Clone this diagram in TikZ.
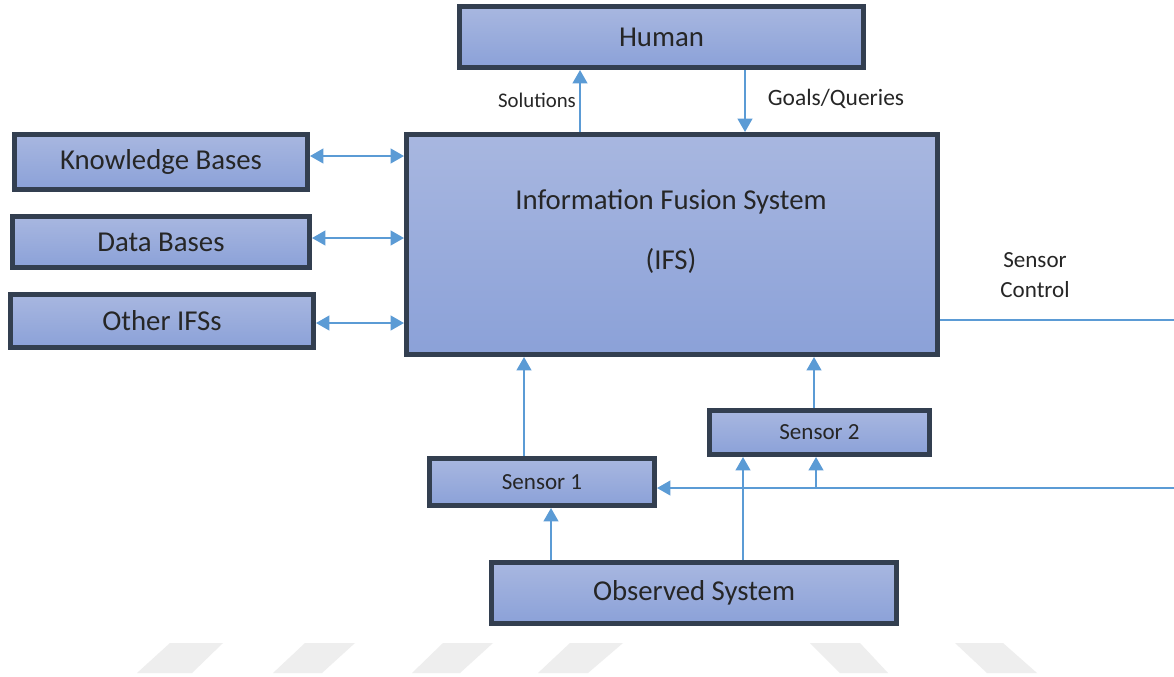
\documentclass[tikz,border=0pt]{standalone}
\usepackage{fontspec}
\setmainfont{Carlito}
\usetikzlibrary{arrows.meta}
\definecolor{boxtop}{HTML}{A8B7E0}
\definecolor{boxbot}{HTML}{8BA1D8}
\definecolor{boxedge}{HTML}{333F50}
\definecolor{flowblue}{HTML}{5B9BD5}
\definecolor{wmgray}{HTML}{EEEEEE}
\begin{document}
\begin{tikzpicture}[x=0.75pt,y=-0.75pt,
  box/.style={draw=boxedge, line width=3.75pt, top color=boxtop, bottom color=boxbot,
              inner sep=0pt, text=black!85, font=\fontsize{21.6}{25}\selectfont},
  smallbox/.style={box, font=\fontsize{17.3}{20}\selectfont},
  lbl/.style={text=black!85, inner sep=0pt, font=\fontsize{17.3}{23}\selectfont},
  flow/.style={draw=flowblue, line width=1.5pt},
  arr/.style={flow, -{Triangle[length=10pt,width=11pt]}},
  dbl/.style={flow, {Triangle[length=10pt,width=11pt]}-{Triangle[length=10pt,width=11pt]}}]
\useasboundingbox (0,0) rectangle (1174,676);
\fill[white] (0,0) rectangle (1174,676);

% faint stripes along the bottom edge
\fill[wmgray] (170,643) -- (223,643) -- (192,673) -- (137,673) -- cycle;
\fill[wmgray] (305,643) -- (355,643) -- (322,673) -- (273,673) -- cycle;
\fill[wmgray] (443,643) -- (493,643) -- (460,673) -- (412,673) -- cycle;
\fill[wmgray] (570,643) -- (623,643) -- (588,673) -- (538,673) -- cycle;
\fill[wmgray] (810,643) -- (860,643) -- (888,673) -- (840,673) -- cycle;
\fill[wmgray] (955,643) -- (1003,643) -- (1037,673) -- (987,673) -- cycle;

% blocks
\node[box, minimum width=404*0.75pt, minimum height=61*0.75pt] (human) at (661.5,37) {Human};
\node[box, minimum width=531*0.75pt, minimum height=220*0.75pt] (ifs) at (672,244.5) {};
\node[lbl, align=center, font=\fontsize{21.6}{25}\selectfont] (ifstitle) at (671,232)
  {Information Fusion System\\[20pt](IFS)};
\node[box, minimum width=293*0.75pt, minimum height=55*0.75pt] (kb) at (161,162) {Knowledge Bases};
\node[box, minimum width=297*0.75pt, minimum height=51*0.75pt] (db) at (161,242) {Data Bases};
\node[box, minimum width=303*0.75pt, minimum height=53*0.75pt] (oifs) at (162,321) {Other IFSs};
\node[smallbox, minimum width=220*0.75pt, minimum height=44*0.75pt] (s2) at (819.5,432.5) {Sensor 2};
\node[smallbox, minimum width=225*0.75pt, minimum height=47*0.75pt] (s1) at (542,482) {Sensor 1};
\node[box, minimum width=405*0.75pt, minimum height=61*0.75pt] (obs) at (694,593) {Observed System};

% routing guides
\coordinate (solx) at (580,0);
\coordinate (goalx) at (745,0);
\coordinate (kby) at (0,156);
\coordinate (dby) at (0,238);
\coordinate (oiy) at (0,323);
\coordinate (s1x) at (524,0);
\coordinate (s2x) at (814,0);
\coordinate (o1x) at (551,0);
\coordinate (o2x) at (743,0);
\coordinate (ctl) at (1174,320);
\coordinate (fb) at (1174,488);
\coordinate (br) at (816,488);

% human interaction
\draw[arr] (ifs.north -| solx) -- (human.south -| solx);
\draw[arr] (human.south -| goalx) -- (ifs.north -| goalx);
\node[lbl, font=\fontsize{15.6}{18}\selectfont] (sollbl) at (537,100) {Solutions};
\node[lbl, font=\fontsize{17.6}{20}\selectfont] (goallbl) at (836,99) {Goals/Queries};

% external stores
\draw[dbl] (kb.east |- kby) -- (ifs.west |- kby);
\draw[dbl] (db.east |- dby) -- (ifs.west |- dby);
\draw[dbl] (oifs.east |- oiy) -- (ifs.west |- oiy);

% sensing chain
\draw[arr] (s1.north -| s1x) -- (ifs.south -| s1x);
\draw[arr] (s2.north -| s2x) -- (ifs.south -| s2x);
\draw[arr] (obs.north -| o1x) -- (s1.south -| o1x);
\draw[arr] (obs.north -| o2x) -- (s2.south -| o2x);

% sensor control feedback
\draw[flow] (ifs.east |- ctl) -- (ctl);
\node[lbl, align=center] (ctllbl) at (1035,275) {Sensor\\Control};
\draw[arr] (fb) -- (s1.east |- fb);
\draw[arr] (br) -- (s2.south -| br);
\end{tikzpicture}
\end{document}
